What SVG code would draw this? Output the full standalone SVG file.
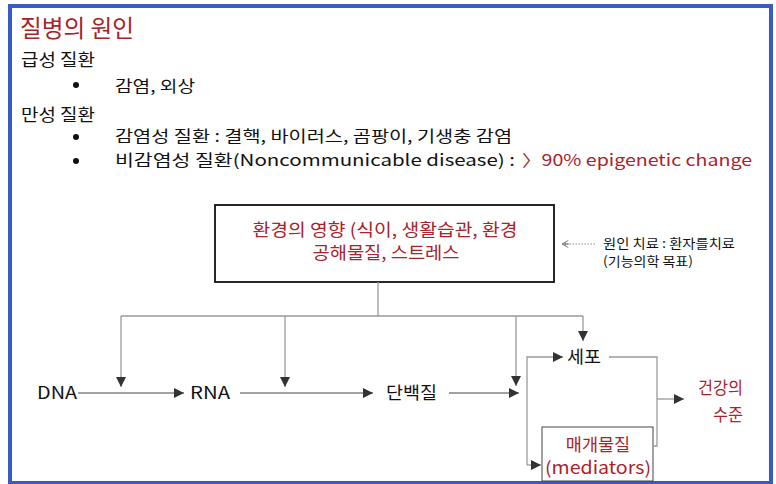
<svg xmlns="http://www.w3.org/2000/svg" width="776" height="484" viewBox="0 0 776 484">
  <style>
    text { font-family: "Noto Sans CJK KR", "Noto Sans", sans-serif; fill: #111; font-weight: 400; }
    .red { fill: #A8232A; }
    .h { font-size: 16.5px; }
    .b { font-size: 16px; }
    .lbl { font-size: 17.5px; }
    .note { font-size: 13px; }
    .ln { fill: none; stroke: #9a9a9a; stroke-width: 1.3; }
    .dk { fill: none; stroke: #444; stroke-width: 1.2; }
  </style>
  <defs>
    <marker id="ah" viewBox="0 0 10 10" refX="10" refY="5" markerWidth="10" markerHeight="10" markerUnits="userSpaceOnUse" orient="auto">
      <path d="M0,0 L10,5 L0,10 z" fill="#333"/>
    </marker>
    <marker id="open" viewBox="0 0 10 10" refX="9" refY="5" markerWidth="9" markerHeight="9" markerUnits="userSpaceOnUse" orient="auto">
      <path d="M2,1 L9,5 L2,9 M5,3 V7 M1,5 H9" fill="none" stroke="#777" stroke-width="1"/>
    </marker>
  </defs>

  <rect x="10" y="6" width="761" height="477" fill="#fff" stroke="#3A5BC7" stroke-width="4"/>

  <g id="header">
    <text class="red" x="20" y="37" font-size="24" font-weight="500" textLength="114" lengthAdjust="spacingAndGlyphs">질병의 원인</text>
    <text class="h" x="21" y="66" textLength="74" lengthAdjust="spacingAndGlyphs">급성 질환</text>
    <circle cx="76" cy="85" r="3" fill="#111"/>
    <text class="b" x="115" y="92" textLength="80" lengthAdjust="spacingAndGlyphs">감염, 외상</text>
    <text class="h" x="21" y="121" textLength="74" lengthAdjust="spacingAndGlyphs">만성 질환</text>
    <circle cx="76" cy="137" r="3" fill="#111"/>
    <text class="b" x="115" y="142" textLength="397" lengthAdjust="spacingAndGlyphs">감염성 질환 : 결핵, 바이러스, 곰팡이, 기생충 감염</text>
    <circle cx="76" cy="161" r="3" fill="#111"/>
    <text class="b" x="115" y="166" textLength="400" lengthAdjust="spacingAndGlyphs">비감염성 질환(Noncommunicable disease) :</text>
    <text class="b red" x="522" y="166" textLength="230" lengthAdjust="spacingAndGlyphs">〉90% epigenetic change</text>
  </g>

  <g id="env">
    <rect x="215" y="205" width="339" height="77" fill="#fff" stroke="#111" stroke-width="1.8"/>
    <text class="lbl red" x="385" y="236" text-anchor="middle" textLength="265" lengthAdjust="spacingAndGlyphs">환경의 영향 (식이, 생활습관, 환경</text>
    <text class="lbl red" x="386" y="259" text-anchor="middle" textLength="147" lengthAdjust="spacingAndGlyphs">공해물질, 스트레스</text>
  </g>

  <g id="note">
    <text class="note" x="603" y="248" textLength="132" lengthAdjust="spacingAndGlyphs">원인 치료 : 환자를치료</text>
    <text class="note" x="603" y="266" textLength="90" lengthAdjust="spacingAndGlyphs">(기능의학 목표)</text>
  </g>

  <g id="dna"><text class="lbl" x="37" y="399" textLength="40" lengthAdjust="spacingAndGlyphs">DNA</text></g>
  <g id="rna"><text class="lbl" x="190" y="399" textLength="40" lengthAdjust="spacingAndGlyphs">RNA</text></g>
  <g id="protein"><text class="lbl" x="386" y="399" textLength="51" lengthAdjust="spacingAndGlyphs">단백질</text></g>
  <g id="cell"><text class="lbl" x="567" y="363" textLength="34" lengthAdjust="spacingAndGlyphs">세포</text></g>
  <g id="mediators">
    <rect x="542" y="427" width="111" height="54" fill="#fff" stroke="#444" stroke-width="1"/>
    <text class="lbl red" x="598" y="451" text-anchor="middle">매개물질</text>
    <text class="lbl red" x="598" y="474" text-anchor="middle" textLength="106" lengthAdjust="spacingAndGlyphs">(mediators)</text>
  </g>
  <g id="health">
    <text class="lbl red" x="743" y="394" text-anchor="end" textLength="45" lengthAdjust="spacingAndGlyphs">건강의</text>
    <text class="lbl red" x="743" y="421" text-anchor="end" textLength="30" lengthAdjust="spacingAndGlyphs">수준</text>
  </g>

  <g id="connectors">
    <path class="ln" d="M378 282 V316"/>
    <path class="ln" d="M121 316 H583"/>
    <path class="ln" d="M121 316 V387" marker-end="url(#ah)"/>
    <path class="ln" d="M285 316 V387" marker-end="url(#ah)"/>
    <path class="ln" d="M516 316 V386" marker-end="url(#ah)"/>
    <path class="ln" d="M583 316 V341" marker-end="url(#ah)"/>
    <path class="dk" d="M78 393 H184" marker-end="url(#ah)"/>
    <path class="dk" d="M240 393 H373" marker-end="url(#ah)"/>
    <path class="dk" d="M449 393 H519" marker-end="url(#ah)"/>
    <path class="ln" d="M527 465 V357 H563" marker-end="url(#ah)"/>
    <path class="ln" d="M527 465 H541" marker-end="url(#ah)"/>
    <path class="ln" d="M609 357 H657 V446 H653"/>
    <path class="ln" d="M657 399 H684" marker-end="url(#ah)"/>
    <path d="M595 244 H562" fill="none" stroke="#888" stroke-width="1" stroke-dasharray="1.5 1.5" marker-end="url(#open)"/>
  </g>
</svg>
